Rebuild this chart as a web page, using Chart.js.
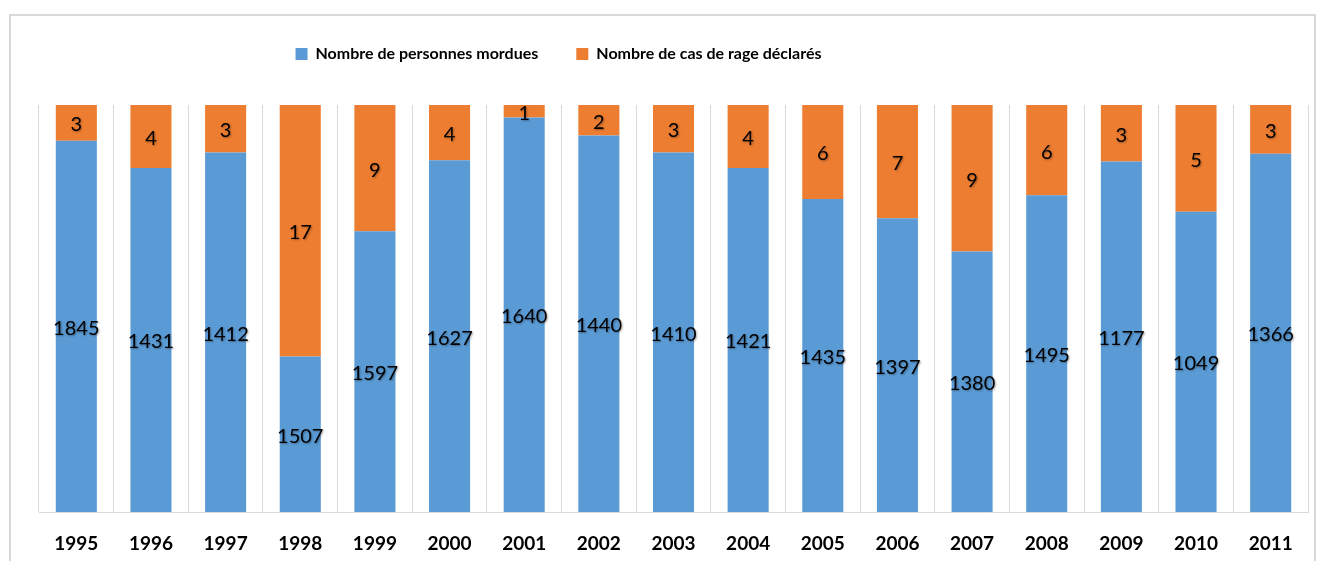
<!DOCTYPE html>
<html lang="fr">
<head>
<meta charset="utf-8">
<title>Personnes mordues et cas de rage</title>
<script src="https://cdn.jsdelivr.net/npm/chart.js@4.4.1/dist/chart.umd.min.js"></script>
<style>
  html, body { margin: 0; padding: 0; background: #fff; }
  #wrap { position: relative; width: 1324px; height: 561px; }
</style>
</head>
<body>
<div id="wrap"><canvas id="rageChart"></canvas></div>
<script>
// Données
const annees = ['1995', '1996', '1997', '1998', '1999', '2000', '2001', '2002', '2003',
                '2004', '2005', '2006', '2007', '2008', '2009', '2010', '2011'];

// valeurs affichées dans les barres
const personnesMordues = [1845, 1431, 1412, 1507, 1597, 1627, 1640, 1440, 1410,
                          1421, 1435, 1397, 1380, 1495, 1177, 1049, 1366];
const casRage = [3, 4, 3, 17, 9, 4, 1, 2, 3, 4, 6, 7, 9, 6, 3, 5, 3];

// hauteur de chaque segment (en % de la barre)
const partMordues = [91.2, 84.5, 88.3, 38.2, 69.0, 86.4, 96.9, 92.5, 88.3,
                     84.5, 76.9, 72.2, 64.0, 77.8, 86.1, 73.8, 88.0];
const partRage = [8.8, 15.5, 11.7, 61.8, 31.0, 13.6, 3.1, 7.5, 11.7,
                  15.5, 23.1, 27.8, 36.0, 22.2, 13.9, 26.2, 12.0];

const etiquettes = [personnesMordues, casRage];

// Cadre gris autour du graphique
const cadre = {
    id: 'cadre',
    beforeDraw(chart) {
        const ctx = chart.ctx;
        ctx.save();
        ctx.strokeStyle = '#d9d9d9';
        ctx.lineWidth = 2;
        ctx.strokeRect(10, 15, 1305, 560);
        ctx.restore();
    }
};

// Légende : plus d'espace dessous, et décalée vers la gauche comme dans Excel
const legendeExcel = {
    id: 'legendeExcel',
    afterInit(chart) {
        const lg = chart.legend;
        if (!lg) return;
        const fitOrig = lg.fit;
        lg.fit = function () {
            fitOrig.call(this);
            this.height += 33;
        };
        const drawOrig = lg.draw;
        lg.draw = function () {
            const l = this.left, r = this.right;
            this.left = l - 115;
            this.right = r - 115;
            drawOrig.call(this);
            this.left = l;
            this.right = r;
        };
    }
};

// Étiquettes de données au centre de chaque segment
const valeurs = {
    id: 'valeurs',
    afterDatasetsDraw(chart) {
        const ctx = chart.ctx;
        ctx.save();
        ctx.font = '20px Lato';
        ctx.fillStyle = '#000';
        ctx.textAlign = 'center';
        ctx.textBaseline = 'middle';
        ctx.shadowColor = 'rgba(0,0,0,0.35)';
        ctx.shadowBlur = 2;
        ctx.shadowOffsetX = 1;
        ctx.shadowOffsetY = 1;
        chart.data.datasets.forEach((ds, i) => {
            chart.getDatasetMeta(i).data.forEach((bar, j) => {
                const y = (bar.y + bar.base) / 2 + 2;
                ctx.fillText(String(etiquettes[i][j]), bar.x, y);
            });
        });
        ctx.restore();
    }
};

document.addEventListener('DOMContentLoaded', () => {
    const ctx = document.getElementById('rageChart').getContext('2d');

    new Chart(ctx, {
        type: 'bar',
        data: {
            labels: annees,
            datasets: [
                {
                    label: 'Nombre de personnes mordues',
                    data: partMordues,
                    backgroundColor: '#5b9bd5',
                    borderWidth: 0
                },
                {
                    label: 'Nombre de cas de rage déclarés',
                    data: partRage,
                    backgroundColor: '#ed7d31',
                    borderWidth: 0
                }
            ]
        },
        options: {
            responsive: true,
            maintainAspectRatio: false,
            animation: false,
            datasets: {
                bar: { categoryPercentage: 1.0, barPercentage: 0.55 }
            },
            layout: { padding: { left: 39, right: 16, top: 8, bottom: 0 } },
            plugins: {
                tooltip: { enabled: false },
                legend: {
                    position: 'top',
                    labels: {
                        boxWidth: 12,
                        boxHeight: 12,
                        padding: 38,
                        color: '#000',
                        font: { family: 'Lato', size: 16, weight: 'bold' }
                    }
                }
            },
            scales: {
                x: {
                    stacked: true,
                    grid: { color: '#d9d9d9', lineWidth: 1, drawTicks: false, offset: true },
                    border: { color: '#d9d9d9' },
                    ticks: {
                        color: '#000',
                        padding: 20,
                        font: { family: 'Lato', size: 19, weight: 'bold' }
                    },
                    afterFit(scale) { scale.height = 49; }
                },
                y: {
                    stacked: true,
                    display: false,
                    min: 0,
                    max: 100
                }
            }
        },
        plugins: [cadre, legendeExcel, valeurs]
    });
});
</script>
</body>
</html>
